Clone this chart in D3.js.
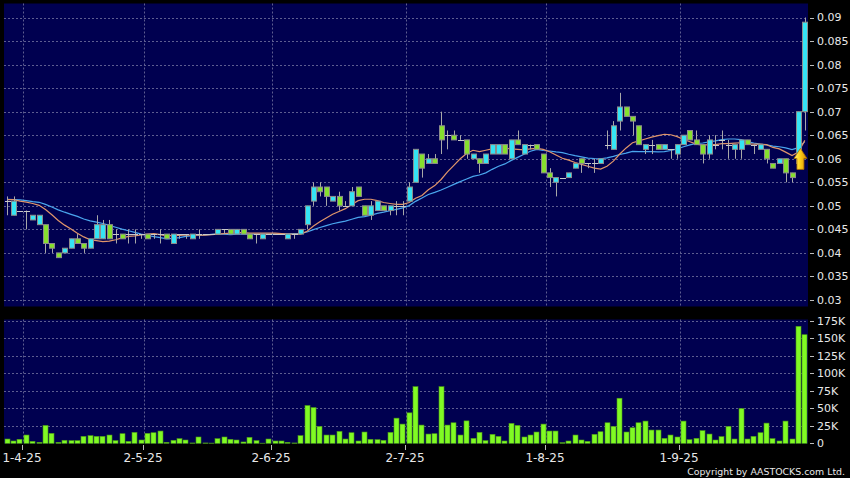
<!DOCTYPE html>
<html>
<head>
<meta charset="utf-8">
<script src="https://cdn.jsdelivr.net/npm/d3@7"></script>
<style>
  html, body { margin: 0; padding: 0; background: #000; }
  svg { display: block; }
</style>
</head>
<body>
<div id="chart"></div>
<script>
// daily OHLC (HKD)
const openP = [
  0.051,0.048,0.049,0.049,0.047,0.046,0.046,0.042,0.040,0.040,
  0.041,0.043,0.042,0.041,0.043,0.043,0.046,0.044,0.044,0.044,
  0.044,0.044,0.044,0.044,0.044,0.044,0.042,0.044,0.044,0.043,
  0.044,0.044,0.044,0.044,0.045,0.045,0.044,0.045,0.044,0.044,
  0.043,0.044,0.044,0.044,0.043,0.044,0.044,0.046,0.051,0.054,
  0.054,0.051,0.052,0.050,0.050,0.054,0.050,0.048,0.049,0.050,
  0.049,0.050,0.050,0.051,0.055,0.061,0.059,0.060,0.067,0.065,
  0.065,0.064,0.064,0.060,0.060,0.059,0.061,0.061,0.063,0.060,
  0.064,0.061,0.063,0.063,0.061,0.057,0.055,0.056,0.056,0.058,
  0.060,0.059,0.059,0.059,0.063,0.062,0.068,0.071,0.069,0.067,
  0.062,0.063,0.063,0.062,0.062,0.061,0.063,0.066,0.064,0.063,
  0.061,0.063,0.064,0.063,0.062,0.062,0.064,0.063,0.062,0.062,
  0.059,0.059,0.060,0.057,0.059,0.070
];
const highP = [
  0.052,0.052,0.049,0.049,0.048,0.048,0.046,0.042,0.040,0.041,
  0.043,0.044,0.042,0.043,0.048,0.047,0.047,0.045,0.044,0.045,
  0.045,0.044,0.044,0.044,0.045,0.044,0.044,0.044,0.044,0.044,
  0.045,0.044,0.044,0.045,0.045,0.045,0.045,0.045,0.044,0.044,
  0.044,0.044,0.044,0.044,0.044,0.044,0.045,0.050,0.055,0.055,
  0.054,0.052,0.053,0.051,0.054,0.054,0.050,0.051,0.051,0.050,
  0.050,0.051,0.051,0.055,0.062,0.061,0.061,0.061,0.070,0.066,
  0.066,0.065,0.064,0.061,0.060,0.061,0.063,0.063,0.063,0.064,
  0.066,0.063,0.063,0.063,0.061,0.058,0.056,0.056,0.057,0.059,
  0.060,0.059,0.060,0.060,0.066,0.068,0.074,0.071,0.069,0.067,
  0.063,0.064,0.063,0.063,0.062,0.063,0.065,0.066,0.066,0.063,
  0.065,0.065,0.066,0.064,0.063,0.064,0.064,0.063,0.063,0.062,
  0.059,0.060,0.060,0.057,0.070,0.090
];
const lowP = [
  0.048,0.048,0.049,0.045,0.047,0.046,0.040,0.040,0.039,0.040,
  0.041,0.042,0.040,0.041,0.043,0.043,0.043,0.042,0.043,0.042,
  0.042,0.043,0.043,0.043,0.042,0.043,0.042,0.043,0.043,0.043,
  0.043,0.044,0.044,0.044,0.044,0.044,0.044,0.044,0.043,0.042,
  0.043,0.044,0.044,0.044,0.043,0.043,0.044,0.045,0.050,0.052,
  0.050,0.051,0.049,0.050,0.050,0.052,0.048,0.047,0.049,0.049,
  0.048,0.048,0.048,0.051,0.055,0.056,0.059,0.059,0.061,0.062,
  0.064,0.064,0.060,0.060,0.057,0.059,0.061,0.061,0.061,0.060,
  0.063,0.061,0.062,0.062,0.057,0.054,0.052,0.056,0.056,0.058,
  0.057,0.058,0.057,0.059,0.062,0.062,0.066,0.069,0.065,0.063,
  0.061,0.061,0.062,0.062,0.060,0.060,0.063,0.064,0.063,0.059,
  0.060,0.062,0.062,0.060,0.060,0.060,0.063,0.061,0.062,0.059,
  0.058,0.059,0.055,0.055,0.058,0.066
];
const closeP = [
  0.051,0.051,0.049,0.049,0.048,0.048,0.042,0.041,0.039,0.041,
  0.043,0.042,0.041,0.043,0.046,0.046,0.043,0.044,0.043,0.044,
  0.044,0.044,0.043,0.044,0.044,0.043,0.044,0.044,0.044,0.044,
  0.044,0.044,0.044,0.045,0.045,0.044,0.045,0.044,0.043,0.044,
  0.044,0.044,0.044,0.044,0.044,0.044,0.045,0.050,0.054,0.053,
  0.052,0.052,0.050,0.050,0.053,0.052,0.048,0.050,0.051,0.049,
  0.050,0.050,0.050,0.054,0.062,0.058,0.060,0.059,0.064,0.065,
  0.064,0.064,0.061,0.061,0.059,0.061,0.063,0.063,0.061,0.064,
  0.063,0.063,0.063,0.062,0.057,0.056,0.056,0.056,0.057,0.059,
  0.059,0.059,0.059,0.060,0.063,0.067,0.071,0.069,0.068,0.063,
  0.063,0.063,0.062,0.063,0.062,0.063,0.065,0.064,0.063,0.061,
  0.064,0.063,0.064,0.063,0.063,0.064,0.063,0.063,0.063,0.060,
  0.058,0.060,0.057,0.056,0.070,0.089
];
// shares traded
const volume = [
  6100,3300,5700,11800,2800,1400,25500,14200,1400,4300,
  3800,3800,9900,10900,9900,9900,11800,3800,13700,2800,
  15600,4700,14200,15100,17500,1400,4300,6600,4700,500,
  9000,500,300,6600,9000,5700,4700,1900,8500,3800,
  200,6100,3300,3300,1400,500,10900,53900,51000,24100,
  11800,11800,17000,6100,15100,3300,16100,5700,5200,4300,
  15600,35900,27400,43500,80800,26000,13200,13700,80800,26000,
  29300,11800,32000,7100,15600,3800,12800,9900,3300,28400,
  25500,9000,11800,16100,27400,17500,17500,900,3300,11800,
  4700,2800,12800,16500,29300,24100,64300,16100,22200,29300,
  31700,18900,18900,7100,11800,9000,31700,5200,7100,18000,
  13200,4700,9500,24100,6100,49600,6100,9900,15100,28800,
  6600,3300,31700,6100,167000,155000
];
// closes before the first visible day (only feed the moving averages)
const priorClose = [0.052,0.051,0.052,0.052,0.051,0.051,0.052,0.051,0.051,0.052,
                    0.051,0.052,0.051,0.051,0.052,0.051,0.052,0.051,0.051];

const dateTicks = ["1-4-25", "2-5-25", "2-6-25", "2-7-25", "1-8-25", "1-9-25"];
const dateTickIdx = [2, 21, 41, 62, 84, 105];
const priceTicks = [0.03, 0.035, 0.04, 0.045, 0.05, 0.055, 0.06, 0.065, 0.07, 0.075, 0.08, 0.085, 0.09];
const volTicks = [0, 25000, 50000, 75000, 100000, 125000, 150000, 175000];
const signalIdx = 124, signalPrice = 0.0622;

const W = 850, H = 478;
const colUp = "#35e4f4", colDown = "#86e02e", colEdge = "#8c8c8c";
const gridCol = "#5d5d90", panelCol = "#000050", textCol = "#e8e8e8";

const svg = d3.select("#chart").append("svg")
  .attr("width", W).attr("height", H)
  .style("font-family", "'DejaVu Sans', Verdana, sans-serif");

svg.append("rect").attr("width", W).attr("height", H).attr("fill", "#000");

const n = closeP.length;
const x = d3.scaleBand().domain(d3.range(n)).range([4, 808]);
const step = x.step();
const xc = i => x(i) + step / 2;
const yP = d3.scaleLinear().domain([0.03, 0.09]).range([300, 17.5]);
const yV = d3.scaleLinear().domain([0, 175000]).range([443.3, 320.7]);
const crisp = v => Math.round(v) + 0.5;

const panels = [{ top: 3.5, bottom: 306.5 }, { top: 319.5, bottom: 443.5 }];
panels.forEach(p => {
  svg.append("rect").attr("x", 4).attr("y", p.top)
    .attr("width", 804).attr("height", p.bottom - p.top).attr("fill", panelCol);
});

// horizontal grids
svg.append("g").selectAll("line").data(priceTicks).enter().append("line")
  .attr("x1", 4).attr("x2", 808)
  .attr("y1", d => crisp(yP(d))).attr("y2", d => crisp(yP(d)))
  .attr("stroke", gridCol).attr("stroke-dasharray", "2,2");
svg.append("g").selectAll("line").data(volTicks.filter(v => v > 0)).enter().append("line")
  .attr("x1", 4).attr("x2", 808)
  .attr("y1", d => crisp(yV(d))).attr("y2", d => crisp(yV(d)))
  .attr("stroke", gridCol).attr("stroke-dasharray", "2,2");

// vertical grids at month starts
const gridX = i => crisp(x(i) + step);
panels.forEach(p => {
  svg.append("g").selectAll("line").data(dateTickIdx).enter().append("line")
    .attr("x1", gridX).attr("x2", gridX)
    .attr("y1", p.top).attr("y2", p.bottom)
    .attr("stroke", gridCol).attr("stroke-dasharray", "2,2");
});

// moving averages
const allClose = priorClose.concat(closeP);
function sma(period) {
  return closeP.map((c, i) => {
    const j = i + priorClose.length;
    return d3.mean(allClose.slice(Math.max(0, j - period + 1), j + 1));
  });
}
const line = d3.line().x((d, i) => xc(i)).y(d => yP(d));
svg.append("path").datum(sma(20)).attr("d", line)
  .attr("fill", "none").attr("stroke", "#4aa6ee").attr("stroke-width", 1.2);
svg.append("path").datum(sma(10)).attr("d", line)
  .attr("fill", "none").attr("stroke", "#e0956a").attr("stroke-width", 1.2);

// candles
const idx = d3.range(n);
svg.append("g").selectAll("line").data(idx).enter().append("line")
  .attr("x1", i => crisp(xc(i))).attr("x2", i => crisp(xc(i)))
  .attr("y1", i => yP(highP[i])).attr("y2", i => yP(lowP[i]))
  .attr("stroke", "#a8a8a8");

const bodyW = 5;
svg.append("g").selectAll("rect").data(idx.filter(i => openP[i] !== closeP[i])).enter().append("rect")
  .attr("x", i => Math.round(xc(i) - bodyW / 2) + 0.5)
  .attr("y", i => yP(Math.max(openP[i], closeP[i])))
  .attr("width", bodyW)
  .attr("height", i => Math.abs(yP(openP[i]) - yP(closeP[i])))
  .attr("fill", i => closeP[i] > openP[i] ? colUp : colDown)
  .attr("stroke", colEdge);

svg.append("g").selectAll("line").data(idx.filter(i => openP[i] === closeP[i])).enter().append("line")
  .attr("x1", i => Math.round(xc(i) - bodyW / 2))
  .attr("x2", i => Math.round(xc(i) + bodyW / 2) + 1)
  .attr("y1", i => crisp(yP(closeP[i]))).attr("y2", i => crisp(yP(closeP[i])))
  .attr("stroke", "#c8c8c8");

// signal arrow
const defs = svg.append("defs");
const grad = defs.append("linearGradient").attr("id", "arrowGrad")
  .attr("x1", "0%").attr("x2", "100%").attr("y1", "0%").attr("y2", "0%");
grad.append("stop").attr("offset", "0%").attr("stop-color", "#fff47a");
grad.append("stop").attr("offset", "45%").attr("stop-color", "#ffd21a");
grad.append("stop").attr("offset", "100%").attr("stop-color", "#d88a00");
const ax = xc(signalIdx) + 2, ay = yP(signalPrice);
svg.append("path")
  .attr("d", `M${ax},${ay} L${ax + 6.5},${ay + 10} L${ax + 3.5},${ay + 10} L${ax + 3.5},${ay + 21}
              L${ax - 3.5},${ay + 21} L${ax - 3.5},${ay + 10} L${ax - 6.5},${ay + 10} Z`)
  .attr("fill", "url(#arrowGrad)").attr("stroke", "#a86a00").attr("stroke-width", 0.8);

// volume bars
svg.append("g").selectAll("rect").data(idx).enter().append("rect")
  .attr("x", i => Math.round(xc(i) - 2.5))
  .attr("y", i => yV(volume[i]))
  .attr("width", 5)
  .attr("height", i => yV(0) - yV(volume[i]))
  .attr("fill", "#80fa24").attr("stroke", "#4c9a16").attr("stroke-width", 0.6);

// right axes
const fmtP = d3.format("");
svg.append("g").selectAll("text").data(priceTicks).enter().append("text")
  .attr("x", 817).attr("y", d => yP(d)).attr("dy", "0.36em")
  .attr("font-size", 11).attr("fill", textCol).text(d => fmtP(d));
svg.append("g").selectAll("line").data(priceTicks).enter().append("line")
  .attr("x1", 810).attr("x2", 814)
  .attr("y1", d => crisp(yP(d))).attr("y2", d => crisp(yP(d)))
  .attr("stroke", "#bbb");

svg.append("g").selectAll("text").data(volTicks).enter().append("text")
  .attr("x", 817).attr("y", d => yV(d)).attr("dy", "0.36em")
  .attr("font-size", 11).attr("fill", textCol)
  .text(d => d === 0 ? "0" : (d / 1000) + "K");
svg.append("g").selectAll("line").data(volTicks).enter().append("line")
  .attr("x1", 810).attr("x2", 814)
  .attr("y1", d => crisp(yV(d))).attr("y2", d => crisp(yV(d)))
  .attr("stroke", "#bbb");

// date axis
const dateG = svg.append("g");
dateTicks.forEach((lab, k) => {
  const t = dateG.append("text").attr("y", 462).attr("font-size", 12)
    .attr("fill", textCol).attr("text-anchor", "middle").text(lab);
  const w = t.node().getComputedTextLength();
  const cx = Math.max(gridX(dateTickIdx[k]) - 1.5, w / 2);
  t.attr("x", cx);
  dateG.append("line").attr("x1", crisp(cx)).attr("x2", crisp(cx))
    .attr("y1", 445).attr("y2", 450).attr("stroke", "#bbb");
});

svg.append("text").attr("x", 845).attr("y", 475).attr("text-anchor", "end")
  .attr("font-size", 9.4).attr("fill", textCol).text("Copyright by AASTOCKS.com Ltd.");
</script>
</body>
</html>
